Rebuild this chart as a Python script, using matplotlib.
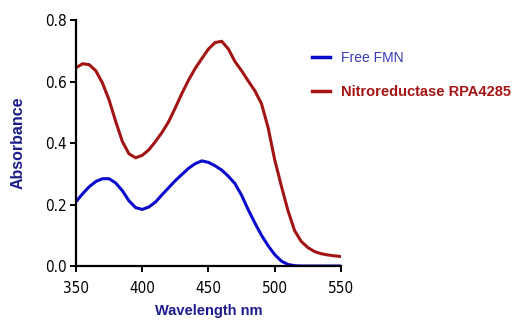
import matplotlib.pyplot as plt
from matplotlib import font_manager
from matplotlib.font_manager import FontProperties

# wavelength grid (nm)
wavelength = [350, 355, 360, 365, 370, 375, 380, 385, 390, 395,
              400, 405, 410, 415, 420, 425, 430, 435, 440, 445,
              450, 455, 460, 465, 470, 475, 480, 485, 490, 495,
              500, 505, 510, 515, 520, 525, 530, 535, 540, 545, 550]

free_fmn = [0.209, 0.235, 0.258, 0.275, 0.284, 0.284, 0.270, 0.245, 0.212, 0.190,
            0.184, 0.192, 0.208, 0.232, 0.255, 0.278, 0.298, 0.318, 0.333, 0.342,
            0.337, 0.326, 0.312, 0.292, 0.268, 0.230, 0.183, 0.140, 0.100, 0.066,
            0.037, 0.016, 0.005, 0.001, 0.0, 0.0, 0.0, 0.0, 0.0, 0.0, 0.0]

nitroreductase = [0.645, 0.658, 0.655, 0.635, 0.595, 0.540, 0.470, 0.405, 0.365, 0.352,
                  0.360, 0.378, 0.405, 0.435, 0.470, 0.515, 0.562, 0.605, 0.643, 0.675,
                  0.706, 0.727, 0.731, 0.706, 0.665, 0.635, 0.602, 0.570, 0.528, 0.450,
                  0.345, 0.260, 0.180, 0.115, 0.080, 0.060, 0.047, 0.040, 0.036, 0.033, 0.031]

xticks = [350, 400, 450, 500, 550]
yticks = [0.0, 0.2, 0.4, 0.6, 0.8]

# look for a narrow sans font for the tick numbers
narrow = None
for f in font_manager.fontManager.ttflist:
    if ('Narrow' in f.name or 'Condensed' in f.name or f.stretch == 'condensed') \
            and f.weight in (400, 'normal', 'regular') and f.style == 'normal':
        narrow = f.fname
        break
tick_prop = FontProperties(fname=narrow, size=11) if narrow else FontProperties(family='Liberation Sans', size=10)

navy = '#1c1c8c'

fig = plt.figure(figsize=(5.12, 3.24), dpi=100)
ax = fig.add_axes([0.1484, 0.179, 0.5176, 0.759])

ax.plot(wavelength, free_fmn, color='#0a0acc', lw=2.2, label='Free FMN', solid_joinstyle='round')
ax.plot(wavelength, nitroreductase, color='#a31515', lw=2.2, label='Nitroreductase RPA4285',
        solid_joinstyle='round')

ax.set_xlim(350, 550)
ax.set_ylim(0, 0.8)
ax.set_xticks(xticks)
ax.set_yticks(yticks)
ax.set_yticklabels([f'{v:.1f}' for v in yticks])

for side in ['top', 'right']:
    ax.spines[side].set_visible(False)
for side in ['left', 'bottom']:
    ax.spines[side].set_linewidth(1.6)
ax.tick_params(direction='out', length=4.5, width=1.4)
ax.tick_params(axis='x', pad=6)
ax.tick_params(axis='y', pad=2)
for lab in ax.get_xticklabels() + ax.get_yticklabels():
    lab.set_fontproperties(tick_prop)

ax.set_xlabel('Wavelength nm', fontsize=10.5, fontweight='bold', color=navy,
              family='Liberation Sans', labelpad=6)
ax.set_ylabel('Absorbance', fontsize=11.5, fontweight='bold', color=navy,
              family='Liberation Sans', labelpad=14)

leg = fig.legend(loc='upper left', bbox_to_anchor=(312 / 512, 1 - 51 / 324), frameon=False,
                 borderpad=0, borderaxespad=0,
                 handlelength=1.3, handletextpad=0.8, labelspacing=1.45,
                 prop={'family': 'Liberation Sans', 'size': 10})
for line in leg.get_lines():
    line.set_linewidth(2.5)
leg.get_texts()[0].set_color('#3a3ab8')
leg.get_texts()[1].set_color('#a31515')
leg.get_texts()[1].set_fontweight('bold')
leg.get_texts()[1].set_fontsize(10.5)

fig.savefig('out.png', dpi=100)
